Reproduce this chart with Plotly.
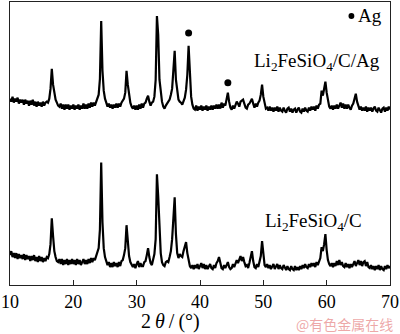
import plotly.graph_objects as go

# 2θ sampling grid (0.2° steps from 10° to 70°)
two_theta = [round(10 + 0.2 * i, 1) for i in range(301)]

# Intensities (a.u., already vertically offset as plotted), one row per degree
li2fesio4_c_ag = [
    187, 184, 189, 183, 187,
    184, 188, 182, 186, 183,
    186, 181, 186, 182, 185,
    180, 185, 181, 186, 180,
    184, 179, 184, 180, 183,
    179, 184, 180, 183, 184,
    183, 187, 197, 217, 201,
    191, 186, 183, 180, 179,
    182, 177, 181, 176, 181,
    177, 181, 176, 180, 177,
    181, 176, 180, 177, 181,
    176, 180, 177, 182, 177,
    181, 177, 182, 178, 183,
    179, 183, 180, 184, 186,
    191, 207, 265, 215, 195,
    187, 183, 179, 182, 178,
    181, 177, 181, 178, 182,
    178, 182, 179, 183, 185,
    187, 193, 215, 201, 189,
    183, 179, 177, 180, 176,
    180, 176, 181, 177, 182,
    178, 182, 183, 187, 190,
    184, 180, 183, 184, 189,
    206, 270, 251, 206, 191,
    184, 179, 177, 180, 182,
    183, 186, 191, 197, 216,
    235, 206, 193, 186, 184,
    183, 181, 185, 188, 196,
    211, 240, 206, 189, 181,
    177, 176, 180, 175, 179,
    176, 180, 175, 179, 176,
    180, 175, 179, 176, 180,
    176, 180, 177, 181, 177,
    181, 177, 183, 178, 182,
    180, 185, 193, 184, 178,
    176, 180, 177, 182, 184,
    182, 179, 184, 185, 186,
    182, 178, 177, 181, 182,
    185, 187, 182, 178, 182,
    179, 183, 185, 191, 201,
    189, 181, 177, 178, 175,
    179, 175, 178, 174, 178,
    175, 179, 174, 178, 175,
    174, 178, 175, 173, 177,
    178, 174, 177, 173, 176,
    177, 173, 176, 178, 174,
    173, 177, 174, 178, 175,
    174, 178, 175, 179, 176,
    179, 175, 180, 177, 181,
    182, 195, 190, 197, 204,
    193, 184, 179, 177, 180,
    176, 180, 177, 181, 177,
    181, 183, 178, 182, 177,
    181, 177, 181, 178, 176,
    180, 182, 187, 192, 184,
    179, 176, 179, 175, 178,
    175, 179, 174, 178, 175,
    178, 174, 177, 179, 175,
    174, 178, 175, 173, 177,
    178, 174, 178, 175, 179,
    176,
]

li2fesio4_c = [
    30, 34, 28, 32, 27,
    32, 26, 31, 27, 30,
    26, 31, 25, 30, 26,
    29, 24, 29, 25, 30,
    24, 28, 23, 29, 24,
    28, 23, 27, 24, 28,
    27, 31, 41, 67, 49,
    34, 28, 24, 23, 26,
    21, 26, 20, 25, 21,
    26, 20, 25, 21, 26,
    21, 25, 20, 26, 21,
    25, 20, 24, 26, 21,
    25, 21, 26, 22, 27,
    23, 27, 25, 29, 31,
    37, 56, 123, 63, 37,
    28, 23, 20, 23, 18,
    22, 18, 23, 19, 22,
    18, 23, 19, 24, 25,
    30, 37, 60, 43, 29,
    23, 20, 18, 21, 17,
    21, 24, 18, 22, 19,
    19, 23, 24, 30, 37,
    28, 22, 20, 25, 31,
    46, 111, 89, 59, 32,
    23, 20, 19, 23, 24,
    23, 28, 34, 46, 71,
    88, 51, 32, 27, 31,
    29, 28, 34, 38, 43,
    32, 23, 19, 17, 20,
    16, 20, 17, 21, 16,
    20, 22, 17, 21, 16,
    20, 16, 19, 21, 17,
    16, 20, 17, 22, 24,
    28, 21, 17, 16, 20,
    17, 21, 23, 18, 16,
    17, 21, 18, 23, 25,
    22, 27, 29, 24, 28,
    23, 19, 20, 17, 22,
    27, 34, 24, 18, 17,
    21, 18, 24, 29, 44,
    30, 20, 18, 21, 17,
    20, 16, 19, 21, 16,
    19, 21, 16, 20, 17,
    16, 20, 17, 15, 19,
    16, 15, 19, 16, 15,
    19, 15, 18, 15, 19,
    16, 20, 17, 21, 18,
    17, 21, 18, 22, 19,
    22, 18, 23, 20, 25,
    27, 38, 34, 41, 51,
    35, 25, 21, 19, 22,
    18, 22, 19, 24, 20,
    25, 20, 23, 19, 18,
    22, 18, 21, 17, 21,
    18, 22, 24, 19, 23,
    25, 20, 24, 19, 23,
    24, 19, 23, 18, 17,
    20, 16, 19, 15, 19,
    16, 20, 15, 19, 16,
    15, 19, 16, 20, 17,
    19,
]

# Ag reflection markers
ag_2theta = [38.2, 44.4]
ag_marker_y = [253, 203]

x_ticks = [10, 20, 30, 40, 50, 60, 70]

SERIF = "Liberation Serif, Times New Roman, serif"

fig = go.Figure()
fig.add_trace(go.Scatter(x=two_theta, y=li2fesio4_c_ag, mode="lines",
                         line=dict(color="black", width=2.2), showlegend=False))
fig.add_trace(go.Scatter(x=two_theta, y=li2fesio4_c, mode="lines",
                         line=dict(color="black", width=2.2), showlegend=False))
fig.add_trace(go.Scatter(x=ag_2theta, y=ag_marker_y, mode="markers",
                         marker=dict(color="black", size=7), showlegend=False))


def px_x(p):
    return (p - 4) / 389


def px_y(p):
    return (285 - p) / 284


# legend-like "● Ag"
fig.add_shape(type="circle", xref="paper", yref="paper",
              x0=px_x(350.5), x1=px_x(356.5), y0=px_y(18), y1=px_y(12),
              fillcolor="black", line=dict(width=0))
fig.add_annotation(text="Ag", xref="paper", yref="paper", x=px_x(358), y=px_y(15),
                   xanchor="left", yanchor="middle", showarrow=False,
                   font=dict(family=SERIF, size=19, color="black"))
fig.add_annotation(text="Li<sub>2</sub>FeSiO<sub>4</sub>/C/Ag", xref="paper", yref="paper",
                   x=px_x(385), y=px_y(61), xanchor="right", yanchor="middle", showarrow=False,
                   font=dict(family=SERIF, size=19, color="black"))
fig.add_annotation(text="Li<sub>2</sub>FeSiO<sub>4</sub>/C", xref="paper", yref="paper",
                   x=px_x(366), y=px_y(222), xanchor="right", yanchor="middle", showarrow=False,
                   font=dict(family=SERIF, size=19, color="black"))
fig.add_annotation(text="2\u2009<i>θ</i>\u2009/\u2009(°)", xref="paper", yref="paper",
                   x=px_x(168), y=px_y(322), xanchor="center", yanchor="middle",
                   showarrow=False, font=dict(family=SERIF, size=20, color="black"))
fig.add_annotation(text="@有色金属在线", xref="paper", yref="paper",
                   x=px_x(398), y=px_y(324), xanchor="right", yanchor="middle",
                   showarrow=False,
                   font=dict(family="Noto Sans CJK SC", size=14, color="rgba(232,140,140,0.75)"))

fig.update_layout(
    width=400, height=334,
    margin=dict(l=4, r=7, t=1, b=49),
    paper_bgcolor="white", plot_bgcolor="white",
    xaxis=dict(range=[10, 70], tickvals=x_ticks, ticktext=[str(t) for t in x_ticks],
               ticks="inside", ticklen=5, tickwidth=1.2, tickcolor="#222",
               ticklabeloverflow="allow",
               showline=True, linecolor="#222", linewidth=1.3, mirror=True,
               showgrid=False, zeroline=False,
               tickfont=dict(family=SERIF, size=18, color="black")),
    yaxis=dict(range=[0, 284], showticklabels=False, ticks="",
               showline=True, linecolor="#222", linewidth=1.3, mirror=True,
               showgrid=False, zeroline=False),
)

fig.write_html("out.html", config={"displayModeBar": False},
               post_script="document.body.style.margin='0';document.body.style.overflow='hidden';")
